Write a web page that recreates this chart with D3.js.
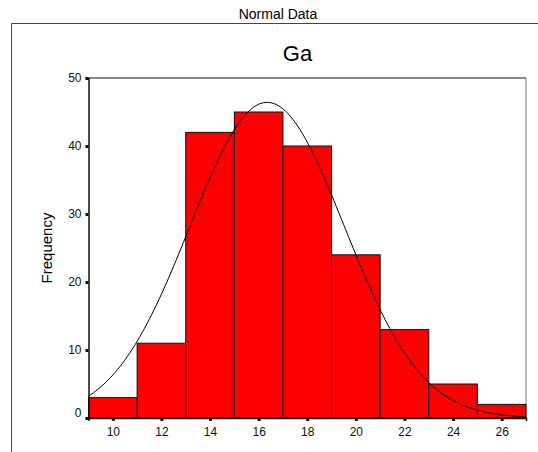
<!DOCTYPE html>
<html>
<head>
<meta charset="utf-8">
<script src="https://cdn.jsdelivr.net/npm/d3@7"></script>
<style>
  html, body { margin: 0; padding: 0; background: #fff; }
  svg { display: block; font-family: Arial, "Liberation Sans", sans-serif; }
</style>
</head>
<body>
<script>
// ---- data ----
const binStarts = [9, 11, 13, 15, 17, 19, 21, 23, 25];
const binWidth = 2;
const frequencies = [3, 11, 42, 45, 40, 24, 13, 5, 2];
const xTicks = [10, 12, 14, 16, 18, 20, 22, 24, 26];
const yTicks = [0, 10, 20, 30, 40, 50];
const fitMean = 16.35;
const fitStdDev = 3.18;
const chartTitle = "Normal Data";
const variableName = "Ga";
const yLabel = "Frequency";

const W = 538, H = 452;
const svg = d3.select("body").append("svg").attr("width", W).attr("height", H);

// outer frame
svg.append("path")
  .attr("d", `M11.5,${H} L11.5,23.5 L${W},23.5`)
  .attr("fill", "none").attr("stroke", "#444").attr("stroke-width", 1);

svg.append("text").attr("x", 278).attr("y", 19)
  .attr("text-anchor", "middle").attr("font-size", 14).text(chartTitle);
svg.append("text").attr("x", 297.5).attr("y", 60.5)
  .attr("text-anchor", "middle").attr("font-size", 22).text(variableName);

const x = d3.scaleLinear().domain([9, 27]).range([88.5, 526]);
const y = d3.scaleLinear().domain([0, 50]).range([418, 78]);

// plot frame (top and right)
svg.append("line").attr("x1", x(9)).attr("x2", x(27)).attr("y1", y(50)).attr("y2", y(50))
  .attr("stroke", "#111").attr("stroke-width", 1);
svg.append("line").attr("x1", x(27)).attr("x2", x(27)).attr("y1", y(50)).attr("y2", y(0))
  .attr("stroke", "#777").attr("stroke-width", 1);

// bars
svg.append("g").selectAll("rect").data(binStarts).join("rect")
  .attr("x", (d) => x(d))
  .attr("y", (d, i) => y(frequencies[i]))
  .attr("width", (d) => x(d + binWidth) - x(d))
  .attr("height", (d, i) => y(0) - y(frequencies[i]))
  .attr("fill", "#ff0000")
  .attr("stroke", "#111")
  .attr("stroke-width", 1);

// normal curve
const total = d3.sum(frequencies);
const normal = (v) => total * binWidth / (fitStdDev * Math.sqrt(2 * Math.PI)) *
  Math.exp(-0.5 * Math.pow((v - fitMean) / fitStdDev, 2));
const pts = d3.range(0, 181).map((i) => 9 + i * 0.1);
svg.append("path")
  .datum(pts)
  .attr("d", d3.line().x((d) => x(d)).y((d) => y(normal(d))))
  .attr("fill", "none").attr("stroke", "#000").attr("stroke-width", 1);

// axes
const yAxis = d3.axisLeft(y).tickValues(yTicks).tickSize(3).tickPadding(4);
const gy = svg.append("g").attr("transform", `translate(${x(9)},0)`).call(yAxis);
gy.select(".domain").attr("stroke", "#111").attr("stroke-width", 1.5);
gy.selectAll(".tick line").attr("stroke", "#111").attr("stroke-width", 3);
gy.selectAll(".tick text").attr("font-size", 12).attr("fill", "#111")
  .attr("font-family", "Arial, 'Liberation Sans', sans-serif")
  .attr("dy", (d) => d === 0 ? "-0.1em" : "0.32em");

const xAxis = d3.axisBottom(x).tickValues(xTicks).tickSize(3).tickPadding(6);
const gx = svg.append("g").attr("transform", `translate(0,${y(0)})`).call(xAxis);
gx.select(".domain").attr("stroke", "#111").attr("stroke-width", 1.5);
gx.selectAll(".tick line").attr("stroke", "#111").attr("stroke-width", 3);
gx.selectAll(".tick text").attr("font-size", 12).attr("fill", "#111")
  .attr("font-family", "Arial, 'Liberation Sans', sans-serif");

svg.append("text")
  .attr("transform", `translate(52,248) rotate(-90)`)
  .attr("text-anchor", "middle").attr("font-size", 15).text(yLabel);
</script>
</body>
</html>
